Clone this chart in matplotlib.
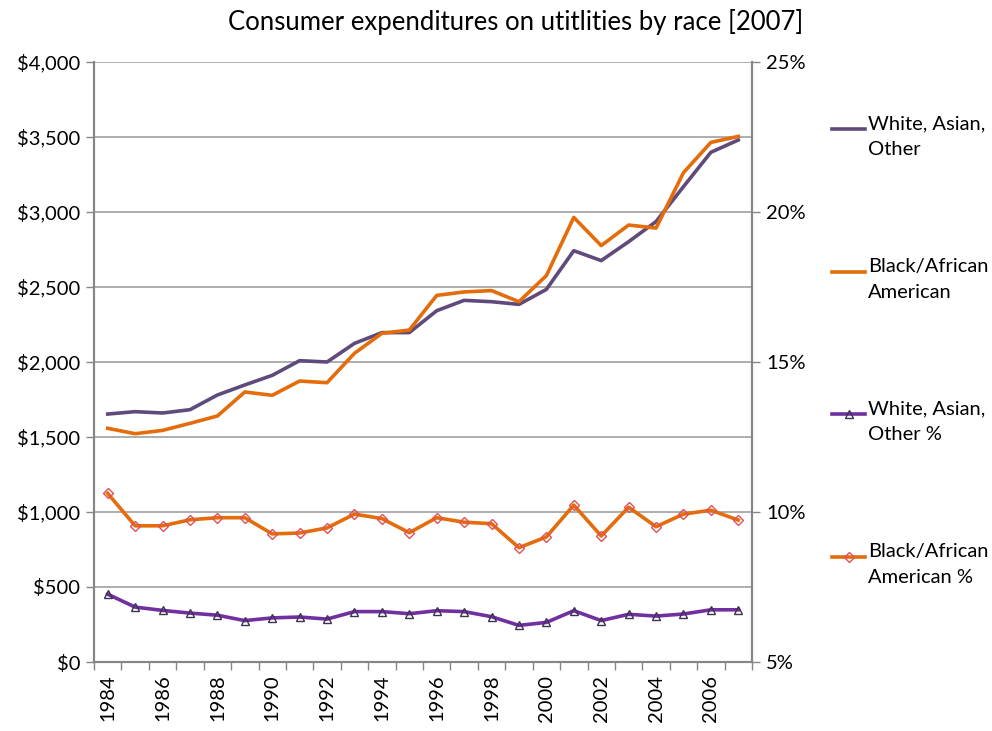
import matplotlib
matplotlib.use("Agg")
import matplotlib.pyplot as plt
from matplotlib.lines import Line2D
from matplotlib.ticker import FuncFormatter
import numpy as np

plt.rcParams['font.family'] = ['Lato', 'DejaVu Sans']

years = list(range(1984, 2008))
white_dollars = [1653, 1669, 1660, 1682, 1780, 1847, 1911, 2009, 2000, 2124, 2196, 2196,
                 2342, 2411, 2402, 2384, 2484, 2742, 2676, 2802, 2936, 3169, 3398, 3480]
black_dollars = [1558, 1522, 1544, 1591, 1640, 1800, 1778, 1873, 1862, 2058, 2191, 2213,
                 2444, 2467, 2476, 2402, 2576, 2964, 2776, 2913, 2893, 3262, 3464, 3504]
white_pct = [7.26, 6.83, 6.72, 6.63, 6.56, 6.38, 6.47, 6.50, 6.43, 6.68, 6.68, 6.61,
             6.71, 6.68, 6.51, 6.22, 6.32, 6.71, 6.38, 6.59, 6.53, 6.60, 6.74, 6.74]
black_pct = [10.62, 9.54, 9.54, 9.74, 9.81, 9.81, 9.27, 9.30, 9.47, 9.93, 9.78, 9.31,
             9.81, 9.66, 9.61, 8.81, 9.17, 10.23, 9.20, 10.16, 9.51, 9.93, 10.06, 9.73]
labels = ["White, Asian,\nOther", "Black/African\nAmerican",
          "White, Asian,\nOther %", "Black/African\nAmerican %"]
title = "Consumer expenditures on utitlities by race [2007]"

W, H = 992, 731
fig = plt.figure(figsize=(W/100, H/100), dpi=100)
ax = fig.add_axes([94/W, (H-662)/H, (752-94)/W, 600/H])
ax2 = ax.twinx()

x = np.arange(len(years))
grid_c = '#A0A0A0'
spine_c = '#868686'

styles = [
    dict(color='#604A7B', lw=2.6),
    dict(color='#E46C0A', lw=2.6),
    dict(color='#7030A0', lw=2.6, marker='^', ms=6, mfc='none', mec='#3F3151', mew=1.0),
    dict(color='#E46C0A', lw=2.6, marker='D', ms=5, mfc='none', mec='#E0505A', mew=1.0),
]

ax.plot(x, white_dollars, zorder=3, **styles[0])
ax.plot(x, black_dollars, zorder=3, **styles[1])
ax2.plot(x, white_pct, **styles[2])
ax2.plot(x, black_pct, **styles[3])

ax.set_xlim(-0.5, len(years) - 0.5)
ax.set_ylim(0, 4000)
ax2.set_ylim(5, 25)
ax.set_yticks(np.arange(0, 4001, 500))
ax2.set_yticks([5, 10, 15, 20, 25])
ax.yaxis.set_major_formatter(FuncFormatter(lambda v, p: f"${int(v):,}"))
ax2.yaxis.set_major_formatter(FuncFormatter(lambda v, p: f"{int(v)}%"))
ax.grid(axis='y', color=grid_c, lw=1.2, zorder=0)
ax.set_axisbelow(True)

ax.set_xticks(np.arange(-0.5, len(years), 1), minor=True)
ax.set_xticks(x[::2])
ax.set_xticklabels([str(y) for y in years[::2]], rotation=90)
ax.tick_params(axis='x', which='major', length=0, pad=9, labelsize=14.5, colors='black')
ax.tick_params(axis='x', which='minor', length=6, color=spine_c, width=1)
ax.tick_params(axis='y', length=6, color=spine_c, width=1, labelsize=14.5, pad=4)
ax2.tick_params(axis='y', length=6, color=spine_c, width=1, labelsize=14.5, pad=4)

for a in (ax, ax2):
    for s in a.spines.values():
        s.set_color(spine_c)
        s.set_linewidth(1.5)
ax2.spines['top'].set_visible(False)
ax.spines['top'].set_visible(False)

fig.text(516/W, 1 - 22/H, title, ha='center', va='center', fontsize=18.5)

# manual legend
for i, (lab, st) in enumerate(zip(labels, styles)):
    yp = 129 + 142.7 * i
    yf = 1 - yp / H
    ln = Line2D([832/W, 865/W], [yf, yf], transform=fig.transFigure,
                color=st['color'], lw=st['lw'])
    fig.add_artist(ln)
    if 'marker' in st:
        mk = Line2D([848.5/W], [yf], transform=fig.transFigure, lw=0,
                    marker=st['marker'], ms=st['ms'], mfc=st['mfc'],
                    mec=st['mec'], mew=st['mew'])
        fig.add_artist(mk)
    fig.text(868/W, 1 - (yp - 14) / H, lab, ha='left', va='top',
             fontsize=14.5, linespacing=1.65)

fig.savefig("out.png", dpi=100)
